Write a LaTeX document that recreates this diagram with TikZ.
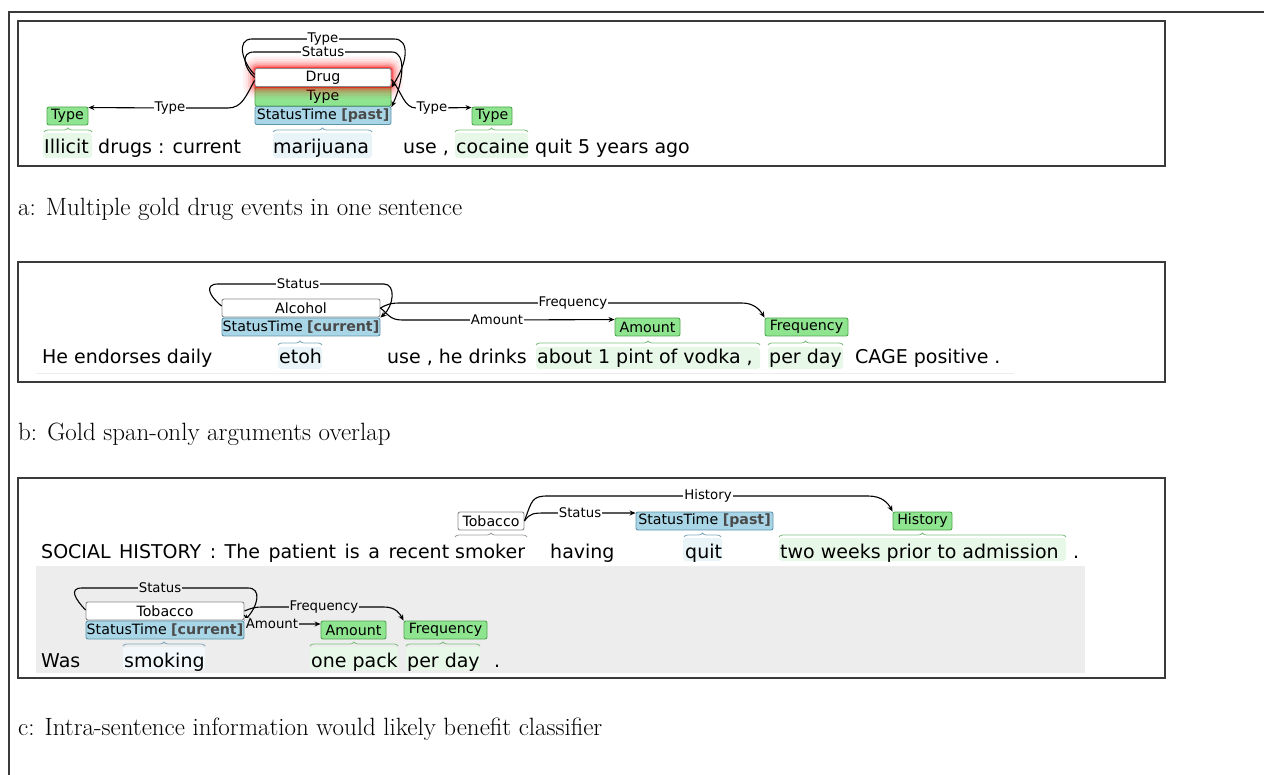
\documentclass[tikz,border=0pt]{standalone}
\usepackage{fontspec}
\usetikzlibrary{arrows.meta,decorations.pathreplacing,calc}
\newfontfamily\dvs{DejaVu Sans}
\definecolor{gfill}{HTML}{8FE48F}
\definecolor{gdraw}{HTML}{4FA84F}
\definecolor{bfill}{HTML}{A9D6E6}
\definecolor{bdraw}{HTML}{5F93AA}
\definecolor{wdraw}{HTML}{8A8A8A}
\definecolor{ghl}{HTML}{E8F8E8}
\definecolor{bhl}{HTML}{E9F4F8}
\definecolor{gbrace}{HTML}{7DBE7D}
\definecolor{bbrace}{HTML}{7FA9BD}
\definecolor{wbrace}{HTML}{A0A0A0}
\definecolor{sentbg}{HTML}{EDEDED}
\definecolor{framecol}{HTML}{3A3A3A}
\definecolor{attr}{HTML}{4A4A4A}
\newcommand\attrtag[1]{{\color{attr}\bfseries[#1]}}
\begin{document}
\begin{tikzpicture}[x=1pt,y=-1pt,
  tok/.style={anchor=base west, inner sep=0pt, font=\dvs\fontsize{19}{21}\selectfont},
  lbl/.style={draw, rounded corners=2pt, line width=0.9pt, inner sep=0pt,
    minimum height=18pt, font=\dvs\fontsize{14.2}{16}\selectfont},
  gbox/.style={lbl, fill=gfill, draw=gdraw},
  bbox/.style={lbl, fill=bfill, draw=bdraw},
  wbox/.style={lbl, fill=white, draw=wdraw},
  rel/.style={line width=1.1pt, -{Stealth[length=6pt,width=5pt]}},
  alab/.style={fill=white, inner sep=1pt, font=\dvs\fontsize{13.3}{15}\selectfont},
  hl/.style={rounded corners=3pt},
  brc/.style={draw=#1, line width=0.8pt, decorate, decoration={brace, amplitude=4pt}},
  panel/.style={draw=framecol, line width=1.2pt},
  captext/.style={anchor=base west, inner sep=0pt, font=\fontsize{25}{29}\selectfont}
]
\useasboundingbox (0,0) rectangle (1264,775);

% outer frame
\draw[framecol, line width=1.5pt] (9,775) -- (9,12) -- (1264,12);

% panels
\draw[panel] (18,21) rectangle (1165,166);
\draw[panel] (18,262) rectangle (1165,382);
\draw[panel] (18,478) rectangle (1165,678);

% captions
\node[captext] (capa) at (18,216) {a: Multiple gold drug events in one sentence};
\node[captext] (capb) at (18,441) {b: Gold span-only arguments overlap};
\node[captext] (capc) at (18,735) {c: Intra-sentence information would likely benefit classifier};

% ---------------- panel a ----------------
\fill[hl, ghl] (43,133) rectangle (92,158);
\fill[hl, bhl] (273,133) rectangle (372,158);
\fill[hl, ghl] (455,133) rectangle (528,158);
\draw[brc=gbrace] (44,132) -- (92,132);
\draw[brc=bbrace] (273,132) -- (372,132);
\draw[brc=gbrace] (455,132) -- (528,132);

\node[tok] (a1) at (44,154) {Illicit};
\node[tok] (a2) at (98,154) {drugs : current};
\node[tok] (a3) at (273,154) {marijuana};
\node[tok] (a4) at (403,154) {use ,};
\node[tok] (a5) at (456,154) {cocaine};
\node[tok] (a6) at (535,154) {quit 5 years ago};

\node[gbox, minimum width=41pt] (ta1) at (67.5,116) {Type};
\node[gbox, minimum width=40pt] (ta3) at (492,116) {Type};
\node[bbox, minimum width=136pt] (st) at (323,115.5) {StatusTime \attrtag{past}};
\node[gbox, minimum width=136pt, minimum height=19pt] (tm) at (323,96.5) {Type};
% the focused trigger, with a soft red halo
\node[wbox, minimum width=136pt,
  preaction={draw=red, line width=24pt, opacity=0.05},
  preaction={draw=red, line width=19pt, opacity=0.07},
  preaction={draw=red, line width=14pt, opacity=0.1},
  preaction={draw=red, line width=10pt, opacity=0.15},
  preaction={draw=red, line width=6pt, opacity=0.25},
  preaction={draw=red, line width=3pt, opacity=0.5}] (drug) at (323,77.5) {Drug};

\draw[rel] ($(drug.west)+(0,-3)$) .. controls (242,62) and (236,39) .. (252,39)
  -- (323,39) node[alab] {Type} -- (394,39)
  .. controls (410,39) and (408,62) .. ($(tm.north east)+(0,1)$);
\draw[rel] (drug.west) .. controls (244,68) and (240,52) .. (254,52)
  -- (323,52) node[alab] {Status} -- (392,52)
  .. controls (406,52) and (404,80) .. ($(st.north east)+(0,1)$);
\draw[rel] ($(drug.west)+(0,3)$) .. controls (246,96) and (242,108) .. (228,108)
  -- (170,108) node[alab] {Type} -- ($(ta1.north east)+(0,1)$);
\draw[rel] ($(drug.east)+(0,2)$) .. controls (402,92) and (404,108) .. (416,108)
  -- (432,108) node[alab] {Type} -- ($(ta3.north west)+(0,1)$);

% ---------------- panel b ----------------
\draw[sentbg, line width=0.8pt] (36,373) -- (1014,373);
\fill[hl, bhl] (278,347) rectangle (322,369);
\fill[hl, ghl] (536,347) rectangle (760,369);
\fill[hl, ghl] (768,347) rectangle (843,369);
\draw[brc=bbrace] (278,345) -- (322,345);
\draw[brc=gbrace] (536,345) -- (760,345);
\draw[brc=gbrace] (768,345) -- (843,345);

\node[tok] (b1) at (42,364) {He endorses daily};
\node[tok] (b2) at (279,364) {etoh};
\node[tok] (b3) at (387,364) {use , he drinks};
\node[tok] (b4) at (537,364) {about 1 pint of vodka ,};
\node[tok] (b5) at (769,364) {per day};
\node[tok] (b6) at (855,364) {CAGE positive .};

\node[wbox, minimum width=158pt] (alc) at (301,308) {Alcohol};
\node[bbox, minimum width=158pt] (stc) at (301,327) {StatusTime \attrtag{current}};
\node[gbox, minimum width=65pt] (amt) at (647.5,327) {Amount};
\node[gbox, minimum width=83pt] (frq) at (806.5,327) {Frequency};

\draw[rel] ($(alc.west)+(0,-2)$) .. controls (209,296) and (204,284) .. (218,284)
  -- (298,284) node[alab] {Status} -- (384,284)
  .. controls (396,284) and (394,306) .. (stc.north east);
\draw[rel] (alc.east) .. controls (388,304) and (390,303) .. (402,303)
  -- (573,303) node[alab] {Frequency} -- (742,303)
  .. controls (754,303) and (760,310) .. (frq.north west);
\draw[rel] (alc.east) .. controls (388,314) and (390,320) .. (402,320)
  -- (497,320) node[alab] {Amount} -- ($(amt.north west)+(0,2)$);

% ---------------- panel c ----------------
\fill[sentbg] (36,566) rectangle (1085,673);

% first sentence
\fill[hl, bhl] (683,538) rectangle (722,561);
\fill[hl, ghl] (779,538) rectangle (1066,561);
\draw[brc=wbrace] (455,537) -- (527,537);
\draw[brc=bbrace] (684,537) -- (721,537);
\draw[brc=gbrace] (779,537) -- (1066,537);

\node[tok] (c1) at (41,558) {\makebox[408pt][s]{SOCIAL HISTORY : The patient is a recent}};
\node[tok] (c2) at (455,558) {smoker};
\node[tok] (c3) at (550,558) {having};
\node[tok] (c4) at (685,558) {quit};
\node[tok] (c5) at (780,558) {two weeks prior to admission};
\node[tok] (c6) at (1073,558) {.};

\node[wbox, minimum width=66pt] (tob1) at (491,521) {Tobacco};
\node[bbox, minimum width=137pt] (stp) at (704.5,521) {StatusTime \attrtag{past}};
\node[gbox, minimum width=59pt] (hist) at (922.5,521) {History};

\draw[rel] (tob1.east) .. controls (530,513) and (534,513) .. (546,513)
  -- (580,513) node[alab] {Status} -- ($(stp.west)+(0,-8)$);
\draw[rel] (tob1.east) .. controls (532,500) and (532,496) .. (548,496)
  -- (708,496) node[alab] {History} -- (868,496)
  .. controls (882,496) and (888,503) .. (hist.north west);

% second sentence
\fill[hl, bhl!60!white] (123,647) rectangle (205,670);
\fill[hl, ghl] (310,647) rectangle (398,670);
\fill[hl, ghl] (406,647) rectangle (480,670);
\draw[brc=bbrace] (123,646) -- (205,646);
\draw[brc=gbrace] (310,646) -- (398,646);
\draw[brc=gbrace] (406,646) -- (480,646);

\node[tok] (d1) at (41,667) {Was};
\node[tok] (d2) at (124,667) {smoking};
\node[tok] (d3) at (311,667) {one pack};
\node[tok] (d4) at (407,667) {per day};
\node[tok] (d5) at (494,667) {.};

\node[wbox, minimum width=158pt] (tob2) at (165,611) {Tobacco};
\node[bbox, minimum width=158pt] (stc2) at (165,630) {StatusTime \attrtag{current}};
\node[gbox, minimum width=65pt] (amt2) at (353.5,630) {Amount};
\node[gbox, minimum width=83pt] (frq2) at (445.5,630) {Frequency};

\draw[rel] ($(tob2.west)+(0,-1)$) .. controls (76,600) and (68,588) .. (82,588)
  -- (160,588) node[alab, fill=sentbg] {Status} -- (248,588)
  .. controls (262,588) and (258,606) .. (stc2.north east);
\draw[rel] (tob2.east) .. controls (252,608) and (254,607) .. (264,607)
  -- (324,607) node[alab, fill=sentbg] {Frequency} -- (384,607)
  .. controls (396,607) and (400,614) .. (frq2.north west);
\draw[rel] ($(tob2.east)+(0,4)$) .. controls (248,622) and (249,624) .. (254,624)
  -- (272,624) node[alab, fill=sentbg] {Amount} -- ($(amt2.west)+(0,-6)$);

\end{tikzpicture}
\end{document}
